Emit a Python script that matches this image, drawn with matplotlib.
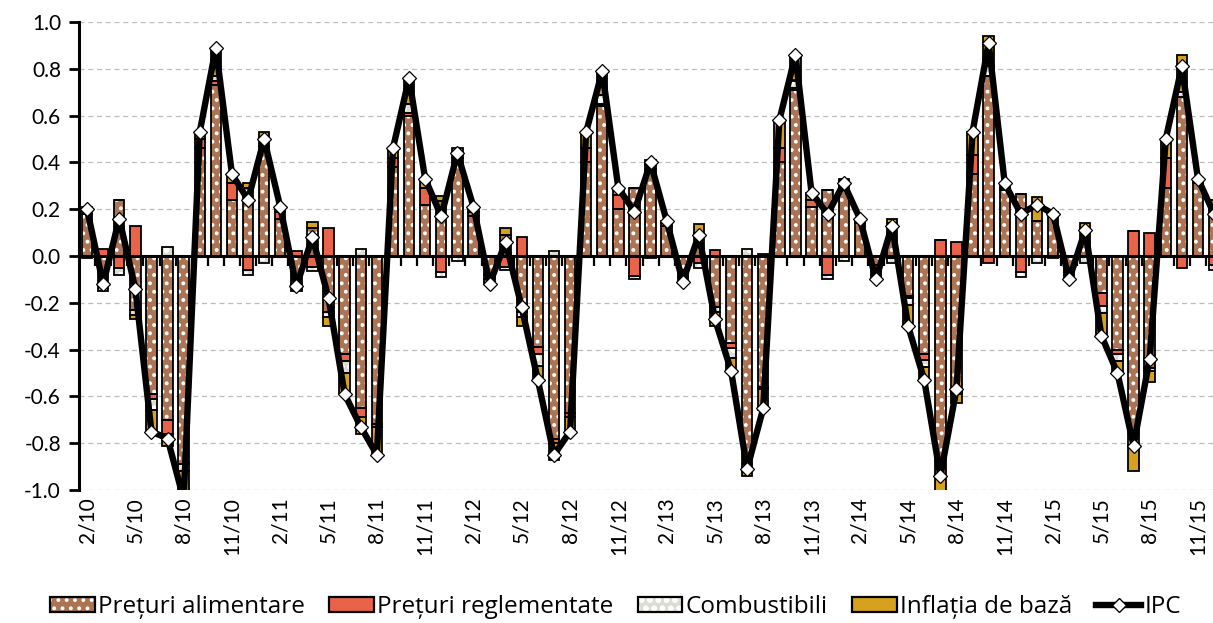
import numpy as np
import matplotlib
matplotlib.use("Agg")
import matplotlib.pyplot as plt
from matplotlib.patches import Patch
from matplotlib.lines import Line2D
from matplotlib.legend_handler import HandlerTuple

plt.rcParams['font.family'] = ['Lato', 'DejaVu Sans']
plt.rcParams['hatch.linewidth'] = 1.6

# ---- data (monthly, 2/10 ... 12/15) ----
food = [0.18,-0.12,0.24,-0.23,-0.59,-0.70,-0.89,0.46,0.73,0.24,
        0.29,0.47,0.16,-0.12,0.12,-0.24,-0.42,-0.65,-0.72,0.38,
        0.60,0.22,0.235,0.42,0.17,-0.08,0.09,-0.24,-0.39,-0.78,
        -0.67,0.40,0.64,0.20,0.29,0.37,0.13,-0.06,0.10,-0.22,
        -0.37,-0.89,-0.56,0.40,0.71,0.21,0.28,0.30,0.14,-0.04,
        0.14,-0.17,-0.42,-0.94,-0.58,0.35,0.77,0.28,0.265,0.15,
        0.19,-0.05,0.11,-0.16,-0.40,-0.81,-0.48,0.29,0.68,0.31,0.24]
regulated = [0.02,0.03,-0.05,0.13,-0.02,-0.06,0.0,0.04,0.02,0.07,
             -0.06,0.03,0.03,0.02,-0.045,0.12,-0.03,-0.04,-0.01,0.04,
             0.01,0.07,-0.07,0.02,0.02,0.0,-0.045,0.08,-0.03,-0.02,
             -0.02,0.06,0.01,0.06,-0.085,0.02,0.01,-0.01,-0.03,0.025,
             -0.025,-0.01,0.01,0.06,0.01,0.03,-0.08,0.02,0.01,-0.02,
             -0.01,-0.01,-0.025,0.07,0.06,0.08,-0.03,0.01,-0.07,0.0,
             -0.01,-0.02,0.01,-0.055,-0.02,0.105,0.10,0.13,-0.05,0.01,-0.04]
fuel = [-0.01,-0.01,-0.03,-0.02,-0.05,0.04,-0.03,0.0,0.02,0.0,
        -0.02,-0.03,0.0,-0.01,-0.02,-0.02,-0.05,0.03,0.0,0.0,
        0.04,0.0,-0.02,-0.02,0.0,-0.02,-0.015,-0.02,-0.05,0.02,
        0.0,0.0,0.04,0.0,-0.015,-0.01,0.0,-0.02,-0.02,-0.02,
        -0.04,0.03,-0.01,0.0,0.03,0.0,-0.02,-0.02,0.0,-0.02,
        -0.02,-0.03,-0.03,0.0,-0.01,0.0,0.04,0.0,-0.02,-0.03,
        0.0,-0.01,-0.03,-0.03,-0.03,0.0,-0.01,0.0,0.02,0.0,-0.02]
core = [0.01,-0.02,0.0,-0.02,-0.09,-0.05,-0.12,0.03,0.12,0.04,
        0.02,0.03,0.02,-0.02,0.025,-0.04,-0.09,-0.07,-0.12,0.04,
        0.11,0.04,0.02,0.02,0.02,-0.02,0.03,-0.04,-0.06,-0.07,
        -0.06,0.07,0.10,0.03,0.0,0.02,0.01,-0.02,0.035,-0.06,
        -0.055,-0.04,-0.09,0.12,0.11,0.03,0.0,0.01,0.01,-0.02,
        0.02,-0.09,-0.055,-0.07,-0.04,0.10,0.13,0.02,0.0,0.10,
        0.0,-0.02,0.02,-0.09,-0.05,-0.11,-0.05,0.08,0.16,0.01,0.0]
ipc = [0.20,-0.12,0.16,-0.14,-0.75,-0.78,-1.04,0.53,0.89,0.35,
       0.24,0.50,0.21,-0.13,0.08,-0.18,-0.59,-0.73,-0.85,0.46,
       0.76,0.33,0.17,0.44,0.21,-0.12,0.06,-0.22,-0.53,-0.85,
       -0.75,0.53,0.79,0.29,0.19,0.40,0.15,-0.11,0.09,-0.27,
       -0.49,-0.91,-0.65,0.58,0.86,0.27,0.18,0.31,0.16,-0.10,
       0.13,-0.30,-0.53,-0.94,-0.57,0.53,0.91,0.31,0.18,0.22,
       0.18,-0.10,0.11,-0.34,-0.50,-0.81,-0.44,0.50,0.81,0.33,0.18]
tick_labels = ["2/10","5/10","8/10","11/10","2/11","5/11","8/11","11/11",
               "2/12","5/12","8/12","11/12","2/13","5/13","8/13","11/13",
               "2/14","5/14","8/14","11/14","2/15","5/15","8/15","11/15"]
series_names = ["Prețuri alimentare", "Prețuri reglementate", "Combustibili",
                "Inflația de bază"]
line_name = "IPC"

# ---- styles ----
face = ['#AD7454', '#E9634A', '#DCDCD4', '#D6A21E']
hatch = ['..', None, 'oo', None]

W, H = 1213, 623
fig = plt.figure(figsize=(W/100, H/100), dpi=100)
ax = fig.add_axes([79/W, (623-490)/H, (1213-79)/W, (490-22)/H])

n = len(ipc)
x = np.arange(n)
bw = 0.64
pos = np.zeros(n)
neg = np.zeros(n)
for vals, fc, hc in zip([food, regulated, fuel, core], face, hatch):
    v = np.array(vals, dtype=float)
    bottom = np.where(v >= 0, pos, neg)
    if hc:
        ax.bar(x, v, bw, bottom=bottom, color=fc, edgecolor='white',
               hatch=hc, linewidth=0, zorder=2)
    else:
        ax.bar(x, v, bw, bottom=bottom, color=fc, linewidth=0, zorder=2)
    ax.bar(x, v, bw, bottom=bottom, fill=False, edgecolor='black',
           linewidth=1.3, zorder=3)
    pos = pos + np.where(v >= 0, v, 0)
    neg = neg + np.where(v < 0, v, 0)

ax.plot(x, ipc, color='black', lw=4.6, zorder=5, solid_joinstyle='round',
        marker='D', ms=7, mfc='white', mec='black', mew=0.9)

ax.set_xlim(-0.5, (1213-79)/16.1 - 0.5)
ax.set_ylim(-1.0, 1.0)
yt = np.round(np.arange(-1.0, 1.01, 0.2), 1)
ax.set_yticks(yt)
ax.set_yticklabels([f"{abs(t):.1f}" if abs(t) < 1e-9 else f"{t:.1f}" for t in yt])
ax.yaxis.grid(True, color='#bdbdbd', linestyle=(0, (4, 3)), linewidth=0.9)
ax.set_axisbelow(True)
for s in ['top', 'right', 'bottom']:
    ax.spines[s].set_visible(False)
ax.spines['left'].set_linewidth(2.2)
ax.tick_params(axis='y', direction='out', length=7, width=2, labelsize=15,
               pad=6)
ax.set_xticks(x[::3])
ax.set_xticklabels(tick_labels, rotation=90, fontsize=15)
ax.tick_params(axis='x', length=0, pad=5)

ax.axhline(0, color='black', lw=2.2, zorder=4)
ax.plot(np.arange(-0.5, n + 0.5), np.zeros(n + 1), ls='none', marker=3,
        ms=7, mew=1.6, color='black', zorder=4)

def patch_handle(fc, hc):
    if hc:
        return (Patch(facecolor=fc, edgecolor='white', hatch=hc, linewidth=0),
                Patch(fill=False, edgecolor='black', linewidth=1.6))
    return (Patch(facecolor=fc, linewidth=0),
            Patch(fill=False, edgecolor='black', linewidth=1.6))

handles = [patch_handle(f, h) for f, h in zip(face, hatch)]
handles.append(Line2D([0], [0], color='black', lw=4.6, marker='D', ms=7,
                      mfc='white', mec='black'))
fig.legend(handles, series_names + [line_name], loc='center left',
           bbox_to_anchor=(50/W, 1 - 607/H), ncol=5, frameon=False,
           prop={'family': ['Open Sans', 'DejaVu Sans'], 'size': 17.5},
           handlelength=1.85, handleheight=0.55,
           handletextpad=0.12, columnspacing=1.0, borderaxespad=0,
           borderpad=0, handler_map={tuple: HandlerTuple(ndivide=1, pad=0)})

fig.savefig("out.png", dpi=100)
